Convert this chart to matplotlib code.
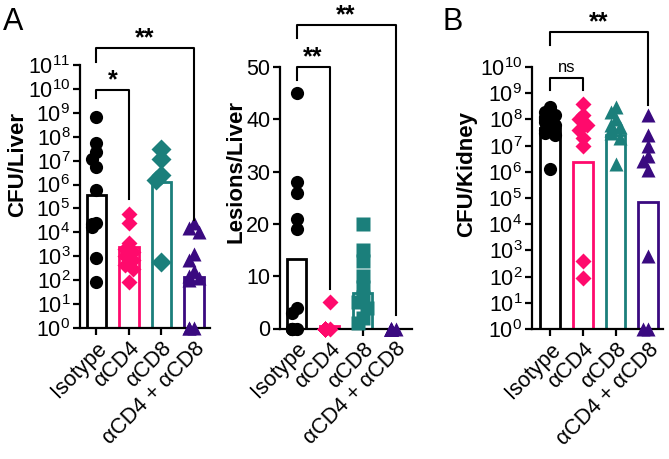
import numpy as np
import matplotlib
matplotlib.use("Agg")
import matplotlib.pyplot as plt
from matplotlib import transforms

plt.rcParams['font.family'] = ['Liberation Sans', 'DejaVu Sans']
plt.rcParams['mathtext.default'] = 'regular'

groups = ['Isotype', 'αCD4', 'αCD8', 'αCD4 + αCD8']
colors = ['#000000', '#FF0A6C', '#1B7F7B', '#3A0A80']

# CFU / liver
iso_liver = [7e8, 5.5e7, 2.2e7, 1.2e7, 5.5e6, 6e5, 2.5e4, 2.2e4, 1.6e4, 850, 85]
cd4_liver = [6e4, 2.5e4, 3.5e3, 2e3, 1.5e3, 1e3, 700, 450, 300, 80]
cd8_liver = [3e7, 1.2e7, 2.5e6, 1.5e6, 550]
dko_liver = [2.5e4, 1.5e4, 1e4, 1.2e3, 700, 250, 150, 120, 100, 1, 1, 1]
bar_liver = [3.7e5, 2.4e3, 1.3e6, 130]

# lesions / liver
iso_les = [45, 28, 26, 21, 19, 4, 3, 0, 0, 0, 0]
cd4_les = [5, 0, 0, 0, 0, 0, 0, 0, 0, 0]
cd8_les = [20, 15, 13, 10, 8, 6, 5, 4, 2, 1]
dko_les = [0, 0, 0, 0, 0, 0, 0, 0, 0, 0]
bar_les = [13.3, 0.5, 6.8, 0]

# CFU / kidney
iso_kid = [3e8, 2e8, 1.5e8, 1.2e8, 1e8, 8e7, 6e7, 4e7, 3e7, 2.5e7, 1.3e6]
cd4_kid = [4e8, 1.5e8, 1e8, 6e7, 4e7, 2e7, 1e7, 400, 90]
cd8_kid = [3e8, 2e8, 1e8, 6e7, 5e7, 4e7, 3e7, 2e7, 2e6]
dko_kid = [1.5e8, 2.5e7, 1e7, 4e6, 2.5e6, 1.2e6, 600, 1, 1]
bar_kid = [4.7e7, 2.3e6, 2.5e7, 7e4]

fig = plt.figure(figsize=(6.69, 4.59), dpi=100)
W, H = 669.0, 459.0


def make_ax(left, top, right, bottom):
    return fig.add_axes([left / W, 1 - bottom / H, (right - left) / W, (bottom - top) / H])


def swarm(ax, vals, log, diam, max_off):
    # simple deterministic spread of overlapping points
    bb = ax.get_position()
    h_px = bb.height * H
    w_px = bb.width * W
    y0, y1 = ax.get_ylim()
    x0, x1 = ax.get_xlim()
    v = np.asarray(vals, float)
    if log:
        v = np.log10(v)
        y0, y1 = np.log10(y0), np.log10(y1)
    yp = (v - y0) / (y1 - y0) * h_px
    ppx = w_px / (x1 - x0)
    step = diam * 0.35
    lim = max_off * ppx
    xs = np.zeros(len(v))
    placed = []
    for i in np.argsort(-yp):
        best = 0.0
        for k in range(30):
            off = ((k + 1) // 2) * step * (1 if k % 2 else -1)
            if abs(off) > lim:
                continue
            best = off
            if all((off - a) ** 2 + (yp[i] - b) ** 2 >= (0.65 * diam) ** 2 for a, b in placed):
                break
        xs[i] = best / ppx
        placed.append((best, yp[i]))
    return xs


def style(ax):
    for s in ['top', 'right']:
        ax.spines[s].set_visible(False)
    for s in ['left', 'bottom']:
        ax.spines[s].set_linewidth(1.6)
    ax.tick_params(axis='both', width=1.6, length=5, labelsize=15.5, pad=2)
    ax.tick_params(axis='y', which='minor', width=1.0, length=3)
    ax.set_xticks(range(4))
    ax.set_xticklabels(groups, rotation=45, ha='right', rotation_mode='anchor', fontsize=15.5)


def draw_panel(ax, data, bars, markers, sizes, log):
    x = np.arange(4)
    if log:
        lo = ax.get_ylim()[0]
        ax.bar(x, np.array(bars) - lo, bottom=lo, width=0.6, facecolor='white',
               edgecolor=colors, linewidth=2, zorder=2)
    else:
        ax.bar(x, bars, width=0.6, facecolor='white', edgecolor=colors, linewidth=2, zorder=2)
    for i, vals in enumerate(data):
        off = swarm(ax, vals, log, sizes[i] * 1.39, 0.17)
        ax.plot(i + off, vals, linestyle='none', marker=markers[i], ms=sizes[i],
                color=colors[i], mec='none', zorder=3, clip_on=False)


def bracket(ax, xa, xb, y, ya, yb, label, size, gap):
    tr = transforms.blended_transform_factory(ax.transData, ax.transAxes)
    ax.plot([xa, xa, xb, xb], [ya, y, y, yb], color='black', lw=1.5,
            transform=tr, clip_on=False, zorder=4)
    bold = 'bold' if '*' in label else 'normal'
    ax.text((xa + xb) / 2, y + gap, label, transform=tr, ha='center', va='bottom',
            fontsize=size, fontweight=bold)


# ---- A: CFU/Liver
ax1 = make_ax(80, 65, 210, 328)
ax1.set_yscale('log')
ax1.set_ylim(1, 1e11)
ax1.set_xlim(-0.5, 3.5)
ax1.set_yticks([10.0 ** k for k in range(12)])
ax1.set_yticklabels(['$10^{%d}$' % k for k in range(12)])
style(ax1)
draw_panel(ax1, [iso_liver, cd4_liver, cd8_liver, dko_liver], bar_liver,
           ['o', 'D', 'D', '^'], [9.5, 8.5, 10.5, 10], True)
ax1.text(-0.48, 0.62, 'CFU/Liver', transform=ax1.transAxes, rotation=90,
         ha='center', va='center', fontsize=16, fontweight='bold')
bracket(ax1, 0, 1, 0.905, 0.875, 0.49, '*', 18, -0.01)
bracket(ax1, 0, 3, 1.065, 1.01, 0.41, '**', 18, -0.01)

# ---- A: Lesions/Liver
ax2 = make_ax(280, 67, 412, 328.5)
ax2.set_ylim(0, 50)
ax2.set_xlim(-0.5, 3.5)
ax2.set_yticks(range(0, 51, 10))
style(ax2)
draw_panel(ax2, [iso_les, cd4_les, cd8_les, dko_les], bar_les,
           ['o', 'D', 's', '^'], [9.5, 8.5, 9.5, 10], False)
ax2.text(-0.33, 0.60, 'Lesions/Liver', transform=ax2.transAxes, rotation=90,
         ha='center', va='center', fontsize=16, fontweight='bold')
bracket(ax2, 0, 1, 1.0, 0.95, 0.15, '**', 18, -0.01)
bracket(ax2, 0, 3, 1.16, 1.11, 0.05, '**', 18, -0.01)

# ---- B: CFU/Kidney
ax3 = make_ax(532, 67, 663, 329)
ax3.set_yscale('log')
ax3.set_ylim(1, 1e10)
ax3.set_xlim(-0.55, 3.45)
ax3.set_yticks([10.0 ** k for k in range(11)])
ax3.set_yticklabels(['$10^{%d}$' % k for k in range(11)])
style(ax3)
draw_panel(ax3, [iso_kid, cd4_kid, cd8_kid, dko_kid], bar_kid,
           ['o', 'D', '^', '^'], [9.5, 8.5, 10, 10], True)
ax3.text(-0.5, 0.59, 'CFU/Kidney', transform=ax3.transAxes, rotation=90,
         ha='center', va='center', fontsize=16, fontweight='bold')
bracket(ax3, 0, 1, 0.958, 0.912, 0.912, 'ns', 12, 0.01)
bracket(ax3, 0, 3, 1.134, 1.084, 0.855, '**', 18, -0.01)

fig.text(0.004, 0.985, 'A', fontsize=22, va='top', ha='left')
fig.text(0.662, 0.985, 'B', fontsize=22, va='top', ha='left')

fig.savefig('out.png', dpi=100)
